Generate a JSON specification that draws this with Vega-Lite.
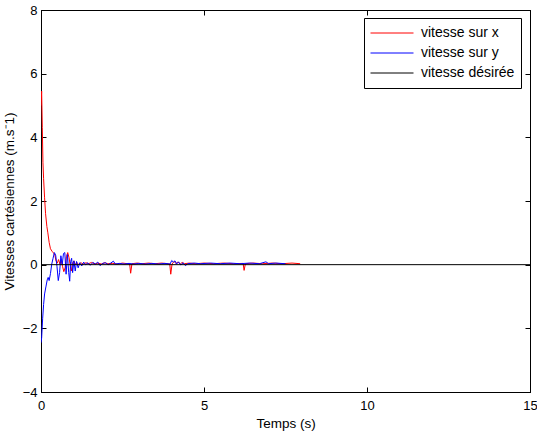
{
  "$schema": "https://vega.github.io/schema/vega-lite/v6.json",
  "autosize": "none",
  "width": 489,
  "height": 382,
  "padding": {"left": 41, "top": 10, "right": 7, "bottom": 45},
  "background": "white",
  "config": {
    "font": "Liberation Sans",
    "view": {"stroke": "black", "strokeWidth": 1},
    "axis": {
      "grid": false,
      "domainColor": "black",
      "tickColor": "black",
      "labelColor": "black",
      "titleColor": "black",
      "labelFont": "Liberation Sans",
      "titleFont": "Liberation Sans",
      "labelFontSize": 13,
      "titleFontSize": 13.5,
      "titleFontWeight": "normal",
      "tickSize": -5
    },
    "legend": {
      "labelFont": "Liberation Sans",
      "labelFontSize": 14,
      "labelColor": "black"
    }
  },
  "data": {
    "values": [
      {"t": 0, "v": 5.0, "s": "vitesse sur x"},
      {"t": 0.02, "v": 5.45, "s": "vitesse sur x"},
      {"t": 0.04, "v": 4.3, "s": "vitesse sur x"},
      {"t": 0.06, "v": 3.2, "s": "vitesse sur x"},
      {"t": 0.08, "v": 2.7, "s": "vitesse sur x"},
      {"t": 0.11, "v": 2.1, "s": "vitesse sur x"},
      {"t": 0.14, "v": 1.6, "s": "vitesse sur x"},
      {"t": 0.18, "v": 1.2, "s": "vitesse sur x"},
      {"t": 0.21, "v": 1.0, "s": "vitesse sur x"},
      {"t": 0.25, "v": 0.7, "s": "vitesse sur x"},
      {"t": 0.29, "v": 0.5, "s": "vitesse sur x"},
      {"t": 0.34, "v": 0.42, "s": "vitesse sur x"},
      {"t": 0.39, "v": 0.36, "s": "vitesse sur x"},
      {"t": 0.43, "v": 0.28, "s": "vitesse sur x"},
      {"t": 0.46, "v": 0.12, "s": "vitesse sur x"},
      {"t": 0.5, "v": 0.05, "s": "vitesse sur x"},
      {"t": 0.54, "v": 0.16, "s": "vitesse sur x"},
      {"t": 0.58, "v": 0.02, "s": "vitesse sur x"},
      {"t": 0.62, "v": 0.12, "s": "vitesse sur x"},
      {"t": 0.66, "v": -0.05, "s": "vitesse sur x"},
      {"t": 0.7, "v": -0.22, "s": "vitesse sur x"},
      {"t": 0.74, "v": -0.1, "s": "vitesse sur x"},
      {"t": 0.78, "v": 0.25, "s": "vitesse sur x"},
      {"t": 0.82, "v": 0.38, "s": "vitesse sur x"},
      {"t": 0.86, "v": 0.22, "s": "vitesse sur x"},
      {"t": 0.9, "v": -0.05, "s": "vitesse sur x"},
      {"t": 0.93, "v": -0.2, "s": "vitesse sur x"},
      {"t": 0.97, "v": 0.05, "s": "vitesse sur x"},
      {"t": 1.01, "v": 0.12, "s": "vitesse sur x"},
      {"t": 1.05, "v": 0.0, "s": "vitesse sur x"},
      {"t": 1.1, "v": 0.07, "s": "vitesse sur x"},
      {"t": 1.15, "v": 0.01, "s": "vitesse sur x"},
      {"t": 1.22, "v": 0.06, "s": "vitesse sur x"},
      {"t": 1.3, "v": 0.02, "s": "vitesse sur x"},
      {"t": 1.38, "v": 0.06, "s": "vitesse sur x"},
      {"t": 1.46, "v": 0.03, "s": "vitesse sur x"},
      {"t": 1.55, "v": 0.07, "s": "vitesse sur x"},
      {"t": 1.65, "v": 0.02, "s": "vitesse sur x"},
      {"t": 1.75, "v": 0.05, "s": "vitesse sur x"},
      {"t": 1.85, "v": 0.02, "s": "vitesse sur x"},
      {"t": 1.95, "v": 0.06, "s": "vitesse sur x"},
      {"t": 2.05, "v": 0.03, "s": "vitesse sur x"},
      {"t": 2.2, "v": 0.04, "s": "vitesse sur x"},
      {"t": 2.35, "v": 0.02, "s": "vitesse sur x"},
      {"t": 2.5, "v": 0.05, "s": "vitesse sur x"},
      {"t": 2.65, "v": 0.03, "s": "vitesse sur x"},
      {"t": 2.72, "v": 0.02, "s": "vitesse sur x"},
      {"t": 2.75, "v": -0.27, "s": "vitesse sur x"},
      {"t": 2.79, "v": 0.03, "s": "vitesse sur x"},
      {"t": 2.95, "v": 0.05, "s": "vitesse sur x"},
      {"t": 3.1, "v": 0.03, "s": "vitesse sur x"},
      {"t": 3.3, "v": 0.05, "s": "vitesse sur x"},
      {"t": 3.5, "v": 0.03, "s": "vitesse sur x"},
      {"t": 3.7, "v": 0.05, "s": "vitesse sur x"},
      {"t": 3.9, "v": 0.03, "s": "vitesse sur x"},
      {"t": 3.95, "v": 0.02, "s": "vitesse sur x"},
      {"t": 3.98, "v": -0.3, "s": "vitesse sur x"},
      {"t": 4.02, "v": 0.02, "s": "vitesse sur x"},
      {"t": 4.08, "v": 0.1, "s": "vitesse sur x"},
      {"t": 4.14, "v": 0.04, "s": "vitesse sur x"},
      {"t": 4.2, "v": 0.08, "s": "vitesse sur x"},
      {"t": 4.27, "v": 0.02, "s": "vitesse sur x"},
      {"t": 4.33, "v": 0.07, "s": "vitesse sur x"},
      {"t": 4.4, "v": 0.03, "s": "vitesse sur x"},
      {"t": 4.55, "v": 0.05, "s": "vitesse sur x"},
      {"t": 4.75, "v": 0.03, "s": "vitesse sur x"},
      {"t": 5.0, "v": 0.05, "s": "vitesse sur x"},
      {"t": 5.3, "v": 0.03, "s": "vitesse sur x"},
      {"t": 5.6, "v": 0.05, "s": "vitesse sur x"},
      {"t": 5.9, "v": 0.03, "s": "vitesse sur x"},
      {"t": 6.2, "v": 0.04, "s": "vitesse sur x"},
      {"t": 6.23, "v": -0.18, "s": "vitesse sur x"},
      {"t": 6.27, "v": 0.03, "s": "vitesse sur x"},
      {"t": 6.5, "v": 0.05, "s": "vitesse sur x"},
      {"t": 6.8, "v": 0.03, "s": "vitesse sur x"},
      {"t": 7.1, "v": 0.05, "s": "vitesse sur x"},
      {"t": 7.4, "v": 0.03, "s": "vitesse sur x"},
      {"t": 7.7, "v": 0.05, "s": "vitesse sur x"},
      {"t": 7.95, "v": 0.03, "s": "vitesse sur x"},

      {"t": 0, "v": -2.45, "s": "vitesse sur y"},
      {"t": 0.02, "v": -2.3, "s": "vitesse sur y"},
      {"t": 0.05, "v": -1.7, "s": "vitesse sur y"},
      {"t": 0.08, "v": -1.25, "s": "vitesse sur y"},
      {"t": 0.11, "v": -0.92, "s": "vitesse sur y"},
      {"t": 0.15, "v": -0.7, "s": "vitesse sur y"},
      {"t": 0.19, "v": -0.48, "s": "vitesse sur y"},
      {"t": 0.22, "v": -0.4, "s": "vitesse sur y"},
      {"t": 0.25, "v": -0.5, "s": "vitesse sur y"},
      {"t": 0.29, "v": -0.28, "s": "vitesse sur y"},
      {"t": 0.33, "v": 0.02, "s": "vitesse sur y"},
      {"t": 0.37, "v": 0.2, "s": "vitesse sur y"},
      {"t": 0.41, "v": 0.38, "s": "vitesse sur y"},
      {"t": 0.45, "v": 0.3, "s": "vitesse sur y"},
      {"t": 0.49, "v": -0.05, "s": "vitesse sur y"},
      {"t": 0.53, "v": -0.5, "s": "vitesse sur y"},
      {"t": 0.57, "v": -0.25, "s": "vitesse sur y"},
      {"t": 0.61, "v": 0.28, "s": "vitesse sur y"},
      {"t": 0.65, "v": 0.0, "s": "vitesse sur y"},
      {"t": 0.69, "v": 0.35, "s": "vitesse sur y"},
      {"t": 0.73, "v": 0.38, "s": "vitesse sur y"},
      {"t": 0.77, "v": -0.3, "s": "vitesse sur y"},
      {"t": 0.81, "v": 0.32, "s": "vitesse sur y"},
      {"t": 0.85, "v": -0.25, "s": "vitesse sur y"},
      {"t": 0.88, "v": -0.52, "s": "vitesse sur y"},
      {"t": 0.91, "v": 0.1, "s": "vitesse sur y"},
      {"t": 0.94, "v": 0.2, "s": "vitesse sur y"},
      {"t": 0.97, "v": -0.25, "s": "vitesse sur y"},
      {"t": 1.01, "v": 0.12, "s": "vitesse sur y"},
      {"t": 1.05, "v": -0.2, "s": "vitesse sur y"},
      {"t": 1.09, "v": 0.1, "s": "vitesse sur y"},
      {"t": 1.14, "v": -0.1, "s": "vitesse sur y"},
      {"t": 1.19, "v": 0.06, "s": "vitesse sur y"},
      {"t": 1.25, "v": -0.04, "s": "vitesse sur y"},
      {"t": 1.31, "v": 0.08, "s": "vitesse sur y"},
      {"t": 1.37, "v": 0.0, "s": "vitesse sur y"},
      {"t": 1.44, "v": 0.06, "s": "vitesse sur y"},
      {"t": 1.51, "v": -0.02, "s": "vitesse sur y"},
      {"t": 1.59, "v": 0.07, "s": "vitesse sur y"},
      {"t": 1.67, "v": 0.02, "s": "vitesse sur y"},
      {"t": 1.74, "v": 0.08, "s": "vitesse sur y"},
      {"t": 1.81, "v": -0.03, "s": "vitesse sur y"},
      {"t": 1.89, "v": 0.04, "s": "vitesse sur y"},
      {"t": 1.98, "v": 0.06, "s": "vitesse sur y"},
      {"t": 2.06, "v": 0.0, "s": "vitesse sur y"},
      {"t": 2.14, "v": 0.05, "s": "vitesse sur y"},
      {"t": 2.22, "v": 0.11, "s": "vitesse sur y"},
      {"t": 2.28, "v": 0.02, "s": "vitesse sur y"},
      {"t": 2.4, "v": 0.04, "s": "vitesse sur y"},
      {"t": 2.55, "v": 0.02, "s": "vitesse sur y"},
      {"t": 2.7, "v": 0.04, "s": "vitesse sur y"},
      {"t": 2.85, "v": 0.02, "s": "vitesse sur y"},
      {"t": 3.0, "v": 0.04, "s": "vitesse sur y"},
      {"t": 3.2, "v": 0.02, "s": "vitesse sur y"},
      {"t": 3.4, "v": 0.04, "s": "vitesse sur y"},
      {"t": 3.6, "v": 0.02, "s": "vitesse sur y"},
      {"t": 3.8, "v": 0.04, "s": "vitesse sur y"},
      {"t": 3.96, "v": 0.02, "s": "vitesse sur y"},
      {"t": 4.01, "v": 0.13, "s": "vitesse sur y"},
      {"t": 4.06, "v": 0.08, "s": "vitesse sur y"},
      {"t": 4.11, "v": 0.12, "s": "vitesse sur y"},
      {"t": 4.16, "v": 0.02, "s": "vitesse sur y"},
      {"t": 4.22, "v": 0.09, "s": "vitesse sur y"},
      {"t": 4.29, "v": -0.01, "s": "vitesse sur y"},
      {"t": 4.36, "v": 0.06, "s": "vitesse sur y"},
      {"t": 4.43, "v": -0.03, "s": "vitesse sur y"},
      {"t": 4.5, "v": 0.03, "s": "vitesse sur y"},
      {"t": 4.7, "v": 0.05, "s": "vitesse sur y"},
      {"t": 4.9, "v": 0.03, "s": "vitesse sur y"},
      {"t": 5.2, "v": 0.05, "s": "vitesse sur y"},
      {"t": 5.5, "v": 0.03, "s": "vitesse sur y"},
      {"t": 5.8, "v": 0.05, "s": "vitesse sur y"},
      {"t": 6.1, "v": 0.03, "s": "vitesse sur y"},
      {"t": 6.4, "v": 0.05, "s": "vitesse sur y"},
      {"t": 6.7, "v": 0.03, "s": "vitesse sur y"},
      {"t": 6.9, "v": 0.09, "s": "vitesse sur y"},
      {"t": 6.98, "v": 0.03, "s": "vitesse sur y"},
      {"t": 7.2, "v": 0.05, "s": "vitesse sur y"},
      {"t": 7.5, "v": 0.03, "s": "vitesse sur y"},

      {"t": 0, "v": 0, "s": "vitesse désirée"},
      {"t": 15, "v": 0, "s": "vitesse désirée"}
    ]
  },
  "layer": [
    {
      "mark": {"type": "line", "strokeWidth": 1, "clip": true, "interpolate": "linear"},
      "encoding": {
        "x": {
          "field": "t", "type": "quantitative",
          "scale": {"domain": [0, 15], "nice": false, "zero": false},
          "axis": {"title": "Temps (s)", "values": [0, 5, 10, 15], "labelPadding": 12, "titlePadding": 4, "labelFlush": false}
        },
        "y": {
          "field": "v", "type": "quantitative",
          "scale": {"domain": [-4, 8], "nice": false},
          "axis": {"title": "Vitesses cartésiennes (m.s⁻1)", "values": [-4, -2, 0, 2, 4, 6, 8], "labelPadding": 9, "titlePadding": 6, "labelFlush": false}
        },
        "color": {
          "field": "s", "type": "nominal",
          "scale": {"domain": ["vitesse sur x", "vitesse sur y", "vitesse désirée"], "range": ["#ff0000", "#0000ff", "#000000"]},
          "legend": {
            "title": null,
            "orient": "none",
            "legendX": 323,
            "legendY": 8,
            "strokeColor": "black",
            "fillColor": "white",
            "padding": 6,
            "symbolType": "stroke",
            "symbolSize": 1849,
            "symbolStrokeWidth": 1,
            "clipHeight": 18,
            "rowPadding": 2,
            "labelOffset": 7
          }
        },
        "order": {"field": "s", "type": "nominal"}
      }
    },
    {
      "mark": {"type": "line", "strokeOpacity": 0},
      "encoding": {
        "x": {
          "field": "t", "type": "quantitative",
          "axis": {"orient": "top", "title": null, "labels": false, "values": [0, 5, 10, 15]}
        },
        "y": {
          "field": "v", "type": "quantitative",
          "axis": {"orient": "right", "title": null, "labels": false, "values": [-4, -2, 0, 2, 4, 6, 8]}
        }
      }
    }
  ],
  "resolve": {"axis": {"x": "independent", "y": "independent"}}
}
